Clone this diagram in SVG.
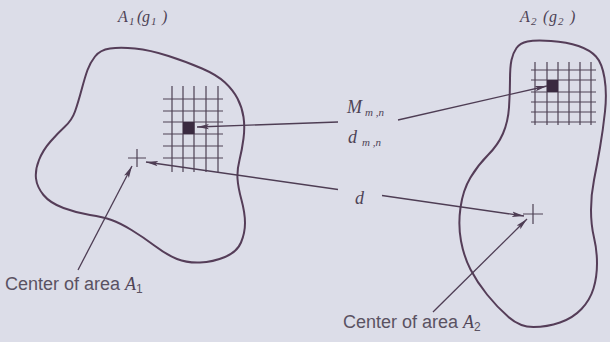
<svg xmlns="http://www.w3.org/2000/svg" width="610" height="342" viewBox="0 0 610 342">
<style>
.bg{fill:#dcdde8}
.blob{fill:none;stroke:#553d58;stroke-width:2}
.grid{stroke:#4e4254;stroke-width:1.2;fill:none}
.cell{fill:#3a2a40}
.cross{stroke:#4e4254;stroke-width:1.2;fill:none}
.conn{stroke:#4e3d54;stroke-width:1.3;fill:none;marker-end:url(#ah)}
.it{font-family:"Liberation Serif",serif;font-style:italic;fill:#4e4356}
.sans{font-family:"Liberation Sans",Arial,sans-serif;fill:#5a5262;font-size:18px}
</style>
<defs>
<marker id="ah" markerUnits="userSpaceOnUse" markerWidth="13" markerHeight="7" refX="12" refY="3.5" orient="auto">
<path d="M0,0.8 L12,3.5 L0,6.2 L2.5,3.5 Z" fill="#4e3d54"/>
</marker>
</defs>
<rect class="bg" x="0" y="0" width="610" height="342"/>

<g id="area1">
<path class="blob" d="M87.5,70 Q90,63 95,56.5 Q100,50 110,48.5 Q120,47 135,48.5 Q150,50 168.5,56 Q187,62 202,68.5 Q217,75 225,82.5 Q233,90 237.5,98.5 Q242,107 243.5,117 Q245,127 243.5,138.5 Q242,150 239.5,160 Q237,170 237.5,178.5 Q238,187 241.5,200 Q245,213 245,223 Q245,233 241,242.5 Q237,252 225,257 Q213,262 200,262.5 Q187,263 177,259 Q167,255 155,246 Q143,237 131.5,230 Q120,223 111.5,220 Q103,217 90,215 Q77,213 63.5,208 Q50,203 43.5,195 Q37,187 36,178.5 Q35,170 39,160 Q43,150 50.5,141.5 Q58,133 65,126.5 Q72,120 75,111.5 Q78,103 81.5,90 Q85,77 87.5,70 Z"/>
<g class="grid">
<path d="M172,86V172M183,86V172M194,86V172M206,86V172M218,86V172"/>
<path d="M163,99H223M163,111H223M163,122H223M163,134H223M163,146H223M163,158H223"/>
</g>
<rect class="cell" x="183" y="122" width="11.5" height="12"/>
<path class="cross" d="M128,158H146M137,149V167"/>
<text class="it" y="22" font-size="16"><tspan x="118">A</tspan><tspan x="129" y="25" font-size="11">1</tspan><tspan x="137" y="22">(</tspan><tspan x="142">g</tspan><tspan x="151" y="25" font-size="11">1</tspan><tspan x="162" y="22">)</tspan></text>
</g>

<g id="area2">
<path class="blob" d="M511.5,60 Q513,53 516.5,48 Q520,43 527.5,41.5 Q535,40 551,41 Q567,42 578.5,46 Q590,50 596,56.5 Q602,63 604.5,78 Q607,93 605,111.5 Q603,130 600,147.5 Q597,165 594,180 Q591,195 591,210 Q591,225 594,237.5 Q597,250 597,263.5 Q597,277 593.5,288.5 Q590,300 581.5,309 Q573,318 560,322.5 Q547,327 533.5,327 Q520,327 508.5,317 Q497,307 487,294.5 Q477,282 470.5,269.5 Q464,257 461,241 Q458,225 460.5,207.5 Q463,190 470.5,177.5 Q478,165 488,155 Q498,145 503,133.5 Q508,122 509,107.5 Q510,93 510,80 Q510,67 511.5,60 Z"/>
<g class="grid">
<path d="M535,62V125M547,62V125M558,62V125M569,62V125M580,62V125M591,62V125"/>
<path d="M531,70H596M531,80H596M531,92H596M531,102H596M531,112H596M531,122H596"/>
</g>
<rect class="cell" x="547" y="80" width="11" height="12"/>
<path class="cross" d="M523,214H543M533,204V224"/>
<text class="it" y="22" font-size="16"><tspan x="520">A</tspan><tspan x="531" y="25" font-size="11">2</tspan><tspan x="543" y="22">(</tspan><tspan x="549">g</tspan><tspan x="558" y="25" font-size="11">2</tspan><tspan x="570" y="22">)</tspan></text>
</g>

<g id="connectors">
<line class="conn" x1="338" y1="122" x2="197" y2="127"/>
<line class="conn" x1="398" y1="120" x2="547" y2="86"/>
<line class="conn" x1="338" y1="189.5" x2="146" y2="162"/>
<line class="conn" x1="382" y1="195.5" x2="524" y2="216"/>
<line class="conn" x1="78" y1="270" x2="132" y2="166"/>
<line class="conn" x1="433" y1="312" x2="527" y2="219"/>
</g>

<g id="labels">
<text class="it" x="347" y="113" font-size="18">M<tspan x="365" y="116" font-size="11">m ,n</tspan></text>
<text class="it" x="348" y="143" font-size="18">d<tspan x="362" y="146" font-size="11">m ,n</tspan></text>
<text class="it" x="355" y="204" font-size="18">d</text>
<text class="sans" x="5" y="290">Center of area <tspan class="it" font-size="18">A</tspan><tspan font-size="12" dy="3">1</tspan></text>
<text class="sans" x="343" y="328">Center of area <tspan class="it" font-size="18">A</tspan><tspan font-size="12" dy="3">2</tspan></text>
</g>
</svg>
